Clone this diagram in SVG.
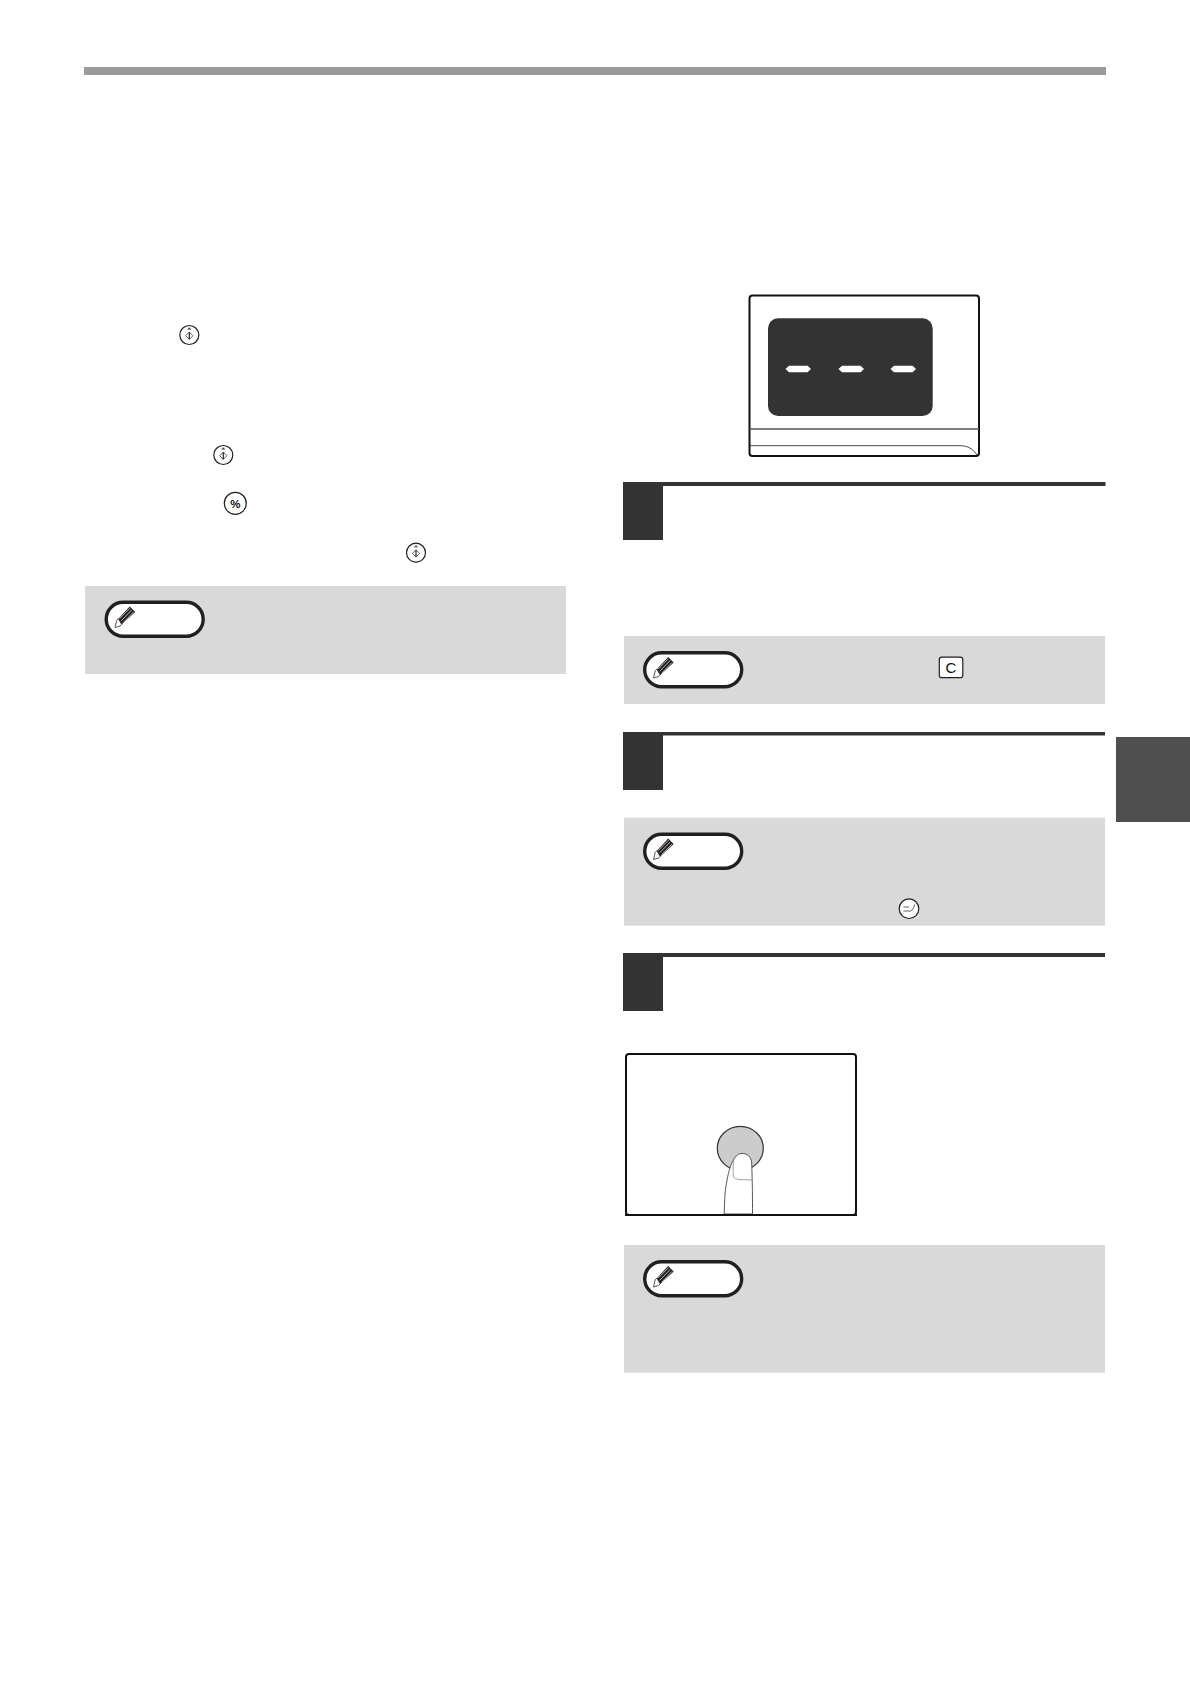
<svg xmlns="http://www.w3.org/2000/svg" width="1190" height="1684" viewBox="0 0 1190 1684">
<style>
.note{fill:#d9d9d9}
.pill{fill:#fff;stroke:#231f20;stroke-width:3.400}
.pen{fill:#fff;stroke:#231f20;stroke-width:.9}
.dark{fill:#333}
.frame{fill:#fff;stroke:#111;stroke-width:2}
.btn{fill:#fff;stroke:#231f20;stroke-width:1.200}
.glyph{fill:none;stroke:#231f20;stroke-width:.7}
.lbl{font-family:"Liberation Sans",Arial,sans-serif;fill:#111;text-anchor:middle}
</style>
<defs>
<g id="pencil">
<path d="M4-10.500L17.500-25L24-18.500L8-3.500Z" fill="#231f20"/>
<path d="M7.500-8L20-21M10-6L22-18.500M5.500-10.500L17.800-23" stroke="#fff" stroke-width=".8" fill="none"/>
<path class="pen" d="M0 0L2-8.500L4-10.500L8-3.500L6-1.800Z"/>
</g>
<g id="notepill">
<rect class="pill" x="1.700" y="1.700" width="97" height="34" rx="17"/>
<use href="#pencil" transform="translate(10.500 27) scale(.84)"/>
</g>
<g id="startbtn">
<circle class="btn" r="9.500"/>
<path d="M-1.800-5.800H1.800" stroke="#231f20" stroke-width=".7" fill="none"/>
<path d="M-1.300-6.300L0-7.800L1.300-6.300Z" fill="#231f20"/>
<path class="glyph" d="M0-3L3.600 .7L0 4.400L-3.600 .7Z"/>
<path d="M0-2.800V4.200" stroke="#231f20" stroke-width="1.200"/>
</g>
</defs>

<rect id="top-bar" x="84" y="67" width="1022" height="8" fill="#9a9a9a"/>
<rect id="side-tab" x="1116" y="737" width="74" height="85" fill="#4f4f4f"/>

<g id="start-key-1"><use href="#startbtn" x="189.300" y="335"/></g>
<g id="start-key-2"><use href="#startbtn" x="223.300" y="455"/></g>
<g id="percent-key">
<circle class="btn" cx="235.300" cy="503.300" r="11"/>
<text class="lbl" x="235.300" y="507.500" font-size="11.500" font-weight="bold">%</text>
</g>
<g id="start-key-3"><use href="#startbtn" x="416" y="552.700"/></g>

<g id="note-1">
<rect class="note" x="85" y="586" width="481" height="88"/>
<use href="#notepill" x="104.500" y="600.500"/>
</g>

<g id="display-panel">
<rect class="frame" x="749.500" y="295.500" width="229.500" height="160.500" rx="3"/>
<rect class="dark" x="768" y="318.300" width="164.700" height="97.700" rx="10"/>
<path fill="#fff" d="M789 365.700H807.500L811 369L807.500 372.300H789L785.500 369Z"/>
<path fill="#fff" d="M842 365.700H860.500L864 369L860.500 372.300H842L838.500 369Z"/>
<path fill="#fff" d="M894 365.700H912.500L916 369L912.500 372.300H894L890.500 369Z"/>
<path d="M750 429H979" stroke="#555" stroke-width="1.300" fill="none"/>
<path d="M750 445.700H960C968 445.700 973 449 977 455" stroke="#333" stroke-width=".9" fill="none"/>
</g>

<g id="step-1">
<rect class="dark" x="623" y="482" width="482.500" height="4"/>
<rect class="dark" x="623" y="482" width="40" height="58"/>
</g>
<g id="note-2">
<rect class="note" x="624" y="636" width="481" height="68"/>
<use href="#notepill" x="643" y="651"/>
<rect x="939.300" y="657.200" width="23.500" height="20.500" rx="2.500" fill="#fff" stroke="#231f20" stroke-width="1.200"/>
<text class="lbl" x="951" y="673" font-size="15">C</text>
</g>

<g id="step-2">
<rect class="dark" x="623" y="732" width="482" height="3.500"/>
<rect class="dark" x="623" y="732" width="40" height="58"/>
</g>
<g id="note-3">
<rect class="note" x="624" y="817.700" width="481" height="108"/>
<use href="#notepill" x="643" y="832.500"/>
<circle class="btn" cx="909" cy="908.700" r="9.800"/>
<path class="glyph" d="M903.500 907H909M903.500 911H909M909 911.500C912 911 914 908.500 914.500 904.500" stroke-width="1.200"/>
</g>

<g id="step-3">
<rect class="dark" x="623" y="953" width="482" height="4"/>
<rect class="dark" x="623" y="953" width="40" height="58"/>
</g>
<g id="finger-panel">
<rect class="frame" x="626" y="1054" width="230" height="161" rx="3"/>
<ellipse cx="740.300" cy="1148.300" rx="23" ry="22" fill="#ccc" stroke="#333" stroke-width="1.200"/>
<path d="M724.200 1214C724.500 1200 725 1190 727 1180C729 1170 731 1164 733.500 1160C736 1155 739 1153.500 742 1153.500C747 1153.500 751 1156 751.700 1163C752.300 1180 752.600 1200 752.500 1214Z" fill="#fff" stroke="#444" stroke-width=".9"/>
<path d="M733.500 1161C733 1168 733 1173 733.500 1176C734 1178.500 736 1179.300 740 1179.500L752 1180" fill="none" stroke="#777" stroke-width=".7"/>
<path d="M625 1215H857" stroke="#111" stroke-width="2"/>
</g>
<g id="note-4">
<rect class="note" x="624" y="1245" width="481" height="127.700"/>
<use href="#notepill" x="643" y="1260"/>
</g>
</svg>
